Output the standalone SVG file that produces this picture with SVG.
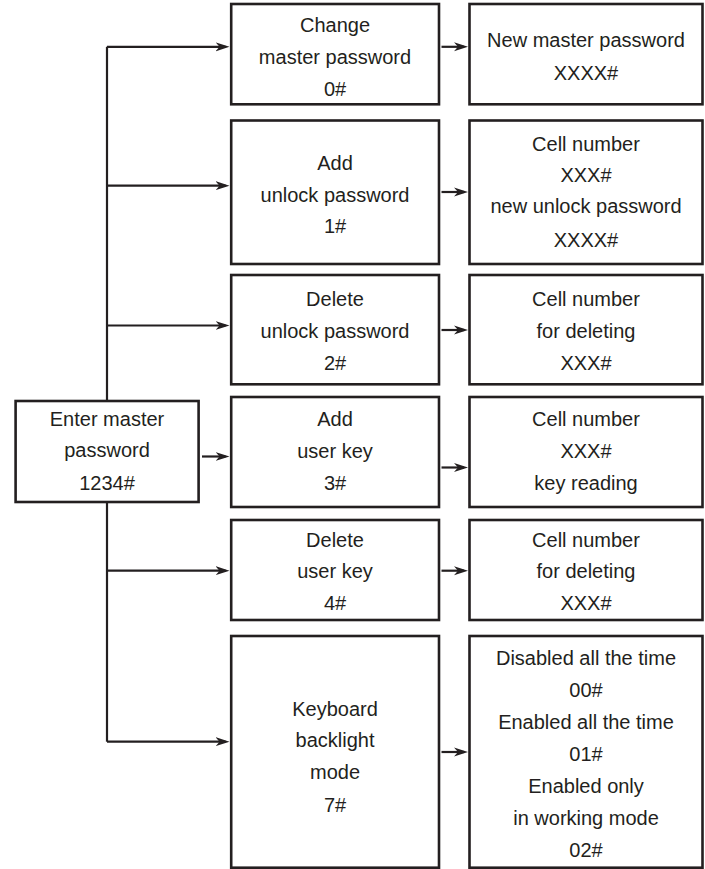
<svg xmlns="http://www.w3.org/2000/svg" width="705" height="869" viewBox="0 0 705 869">
<style>
.box{fill:#fff;stroke:#231f20;stroke-width:2.6}
.ln{fill:none;stroke:#231f20;stroke-width:2.2}
.arr{fill:none;stroke:#231f20;stroke-width:2.2;marker-end:url(#ah)}
text{font-family:"Liberation Sans",Arial,sans-serif;font-size:20px;fill:#231f20;text-anchor:middle}
</style>
<defs>
<marker id="ah" viewBox="0 0 14 10" refX="10" refY="5" markerWidth="14" markerHeight="10" orient="auto" markerUnits="userSpaceOnUse">
<path d="M0,0.5 L14,5 L0,9.5 L4,5 Z" fill="#231f20"/>
</marker>
</defs>
<rect width="705" height="869" fill="#fff"/>
<g id="connectors">
<path class="ln" d="M107,401 V46.8"/>
<path class="ln" d="M107,502 V741.7"/>
<path class="arr" d="M107,46.8 H225.5"/>
<path class="arr" d="M107,185.7 H225.5"/>
<path class="arr" d="M107,325.5 H225.5"/>
<path class="arr" d="M107,570.7 H225.5"/>
<path class="arr" d="M107,741.7 H225.5"/>
<path class="arr" d="M202,456.5 H225.5"/>
<path class="arr" d="M441.5,46.8 H464"/>
<path class="arr" d="M441.5,192 H464"/>
<path class="arr" d="M441.5,330 H464"/>
<path class="arr" d="M441.5,467.5 H464"/>
<path class="arr" d="M441.5,570.7 H464"/>
<path class="arr" d="M441.5,752 H464"/>
</g>
<g id="enter">
<rect class="box" x="15.6" y="401" width="183" height="101"/>
<text x="107" y="426">Enter master</text>
<text x="107" y="457">password</text>
<text x="107" y="490">1234#</text>
</g>
<g id="m0">
<rect class="box" x="231.2" y="4" width="207.8" height="100.3"/>
<text x="335" y="32">Change</text>
<text x="335" y="63.5">master password</text>
<text x="335" y="96">0#</text>
</g>
<g id="m1">
<rect class="box" x="231.2" y="120.5" width="207.8" height="143.5"/>
<text x="335" y="170">Add</text>
<text x="335" y="201.7">unlock password</text>
<text x="335" y="233">1#</text>
</g>
<g id="m2">
<rect class="box" x="231.2" y="275" width="207.8" height="109.3"/>
<text x="335" y="305.7">Delete</text>
<text x="335" y="337.7">unlock password</text>
<text x="335" y="370">2#</text>
</g>
<g id="m3">
<rect class="box" x="231.2" y="397" width="207.8" height="110"/>
<text x="335" y="426">Add</text>
<text x="335" y="458">user key</text>
<text x="335" y="490">3#</text>
</g>
<g id="m4">
<rect class="box" x="231.2" y="520" width="207.8" height="100"/>
<text x="335" y="546.7">Delete</text>
<text x="335" y="578">user key</text>
<text x="335" y="610">4#</text>
</g>
<g id="m7">
<rect class="box" x="231.2" y="636" width="207.8" height="231.7"/>
<text x="335" y="716">Keyboard</text>
<text x="335" y="747.3">backlight</text>
<text x="335" y="779">mode</text>
<text x="335" y="811.7">7#</text>
</g>
<g id="r0">
<rect class="box" x="469.5" y="4" width="233" height="100.3"/>
<text x="586" y="46.7">New master password</text>
<text x="586" y="79.5">XXXX#</text>
</g>
<g id="r1">
<rect class="box" x="469.5" y="120.5" width="233" height="143.5"/>
<text x="586" y="150.7">Cell number</text>
<text x="586" y="182.3">XXX#</text>
<text x="586" y="213.3">new unlock password</text>
<text x="586" y="246.5">XXXX#</text>
</g>
<g id="r2">
<rect class="box" x="469.5" y="275" width="233" height="109.3"/>
<text x="586" y="305.7">Cell number</text>
<text x="586" y="337.7">for deleting</text>
<text x="586" y="370">XXX#</text>
</g>
<g id="r3">
<rect class="box" x="469.5" y="397" width="233" height="110"/>
<text x="586" y="426">Cell number</text>
<text x="586" y="458">XXX#</text>
<text x="586" y="490">key reading</text>
</g>
<g id="r4">
<rect class="box" x="469.5" y="520" width="233" height="100"/>
<text x="586" y="546.7">Cell number</text>
<text x="586" y="578">for deleting</text>
<text x="586" y="610">XXX#</text>
</g>
<g id="r7">
<rect class="box" x="469.5" y="636" width="233" height="231.7"/>
<text x="586" y="665">Disabled all the time</text>
<text x="586" y="697">00#</text>
<text x="586" y="729">Enabled all the time</text>
<text x="586" y="761">01#</text>
<text x="586" y="793">Enabled only</text>
<text x="586" y="825">in working mode</text>
<text x="586" y="857">02#</text>
</g>
</svg>
